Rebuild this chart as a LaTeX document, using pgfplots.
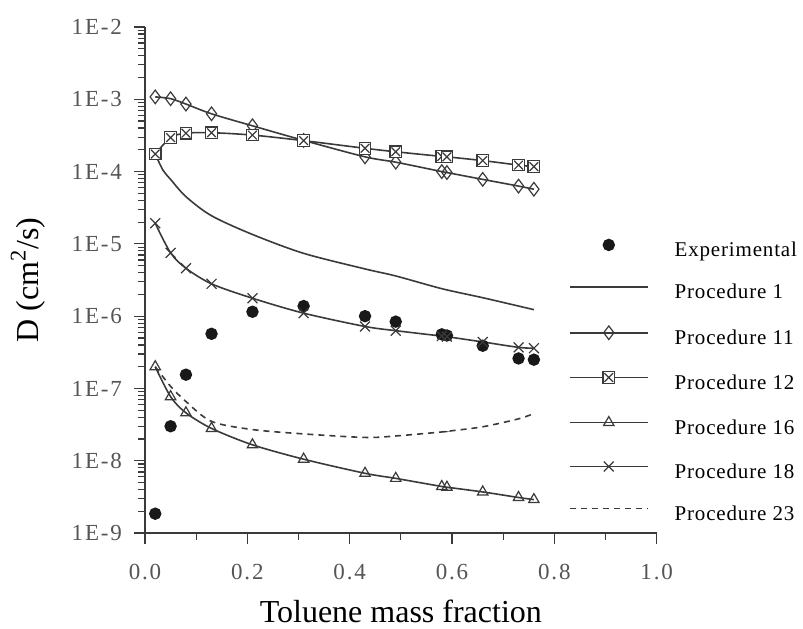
\documentclass[border=0pt]{standalone}
\usepackage{pgfplots}
\pgfplotsset{compat=1.18}
\usepackage{pgfplotstable}
\usepackage{fontspec}
\setmainfont{Liberation Serif}
\newfontfamily\tickfont[LetterSpace=8]{Liberation Serif}
\newfontfamily\legfont[LetterSpace=4]{Liberation Serif}
\definecolor{ln}{HTML}{3A3A3A}
\definecolor{tk}{HTML}{555555}

% boxed cross mark
\pgfdeclareplotmark{boxx}{%
  \pgfpathrectangle{\pgfqpoint{-\pgfplotmarksize}{-\pgfplotmarksize}}{\pgfqpoint{2\pgfplotmarksize}{2\pgfplotmarksize}}%
  \pgfusepathqfillstroke
  \pgfpathmoveto{\pgfqpoint{-0.75\pgfplotmarksize}{-0.75\pgfplotmarksize}}%
  \pgfpathlineto{\pgfqpoint{0.75\pgfplotmarksize}{0.75\pgfplotmarksize}}%
  \pgfpathmoveto{\pgfqpoint{-0.75\pgfplotmarksize}{0.75\pgfplotmarksize}}%
  \pgfpathlineto{\pgfqpoint{0.75\pgfplotmarksize}{-0.75\pgfplotmarksize}}%
  \pgfusepathqstroke
}

\pgfplotstableread{
x     exp     p11     p12     p16     p18     p23
0.02  1.85e-9 1.08e-3 1.75e-4 2.0e-7  1.93e-5 2.0e-7
0.05  3.0e-8  1.02e-3 2.95e-4 7.7e-8  7.5e-6  1.07e-7
0.08  1.55e-7 8.6e-4  3.4e-4  4.6e-8  4.6e-6  6.6e-8
0.13  5.7e-7  6.3e-4  3.45e-4 2.8e-8  2.8e-6  3.5e-8
0.21  1.15e-6 4.3e-4  3.2e-4  1.66e-8 1.77e-6 2.7e-8
0.31  1.38e-6 2.7e-4  2.68e-4 1.05e-8 1.10e-6 2.35e-8
0.43  1.0e-6  1.6e-4  2.1e-4  6.7e-9  7.2e-7  2.1e-8
0.49  8.4e-7  1.35e-4 1.88e-4 5.7e-9  6.3e-7  2.2e-8
0.58  5.6e-7  1.0e-4  1.62e-4 4.4e-9  5.3e-7  2.5e-8
0.59  5.4e-7  9.7e-5  1.60e-4 4.3e-9  5.2e-7  2.55e-8
0.66  3.9e-7  7.8e-5  1.42e-4 3.7e-9  4.4e-7  2.95e-8
0.73  2.6e-7  6.3e-5  1.23e-4 3.1e-9  3.7e-7  3.8e-8
0.76  2.5e-7  5.7e-5  1.17e-4 2.9e-9  3.6e-7  4.5e-8
}\data

\pgfplotstableread{
x     p1
0.02  1.75e-4
0.035 1.05e-4
0.05  7.8e-5
0.08  4.5e-5
0.13  2.45e-5
0.21  1.35e-5
0.31  7.4e-6
0.43  4.5e-6
0.49  3.6e-6
0.58  2.4e-6
0.66  1.8e-6
0.73  1.38e-6
0.76  1.23e-6
}\pone

\begin{document}
\begin{tikzpicture}
\useasboundingbox (0,0) rectangle (401.5pt,314pt);
\begin{axis}[
  at={(72.5pt,47.5pt)}, anchor=south west,
  scale only axis, width=255.85pt, height=253pt,
  ymode=log, log basis y=10,
  xmin=0, xmax=1, ymin=1e-9, ymax=1e-2,
  axis lines=left, axis line style={-, ln, line width=0.8pt},
  tick align=outside, major tick length=5.5pt, minor tick length=3.5pt,
  tick style={ln, line width=0.6pt},
  xtick={0,0.2,0.4,0.6,0.8,1.0}, minor x tick num=1,
  ytick={1e-9,1e-8,1e-7,1e-6,1e-5,1e-4,1e-3,1e-2},
  minor ytick={2e-9,3e-9,4e-9,5e-9,6e-9,7e-9,8e-9,9e-9,
    2e-8,3e-8,4e-8,5e-8,6e-8,7e-8,8e-8,9e-8,
    2e-7,3e-7,4e-7,5e-7,6e-7,7e-7,8e-7,9e-7,
    2e-6,3e-6,4e-6,5e-6,6e-6,7e-6,8e-6,9e-6,
    2e-5,3e-5,4e-5,5e-5,6e-5,7e-5,8e-5,9e-5,
    2e-4,3e-4,4e-4,5e-4,6e-4,7e-4,8e-4,9e-4,
    2e-3,3e-3,4e-3,5e-3,6e-3,7e-3,8e-3,9e-3},
  yticklabel={\pgfmathparse{int(round(\tick))}1E\pgfmathresult},
  xticklabel style={yshift=-6.5pt, /pgf/number format/.cd, fixed, fixed zerofill, precision=1, assume math mode=true},
  yticklabel style={xshift=-2.5pt},
  ticklabel style={font=\tickfont\fontsize{11.5pt}{13pt}\selectfont, text=tk},
  xlabel={Toluene mass fraction}, ylabel={D (cm\textsuperscript{2}/s)},
  label style={font=\fontsize{16pt}{19pt}\selectfont},
  xlabel style={at={(axis description cs:0.5,-0.155)}, anchor=center},
  ylabel style={at={(axis description cs:-0.2287,0.5)}, anchor=center},
  legend cell align=left,
  legend style={draw=none, fill=none, inner sep=0pt, outer sep=0pt,
    at={(axis description cs:0.8286,0.580)}, anchor=north west,
    font=\legfont\fontsize{10.5pt}{12pt}\selectfont, row sep=11pt, column sep=13pt,
    nodes={inner sep=0pt, text height=7.5pt, text depth=2.5pt}},
  legend image code/.code={\draw[#1, yshift=3.5pt, mark repeat=2, mark phase=2] plot coordinates {(0pt,0pt) (19.5pt,0pt) (39pt,0pt)};},
  every axis plot/.append style={line width=0.8pt},
]
\addplot[only marks, mark=*, mark size=2.7pt, black!90] table[x=x, y=exp] {\data};
\addlegendentry{Experimental}
\addplot[ln, smooth, no marks] table[x=x, y=p1] {\pone};
\addlegendentry{Procedure 1}
\addplot[ln, smooth, mark=diamond, mark size=3.4pt, mark options={fill=white, line width=0.6pt}] table[x=x, y=p11] {\data};
\addlegendentry{Procedure 11}
\addplot[ln, smooth, mark=boxx, mark size=2.9pt, mark options={fill=white, line width=0.6pt}] table[x=x, y=p12] {\data};
\addlegendentry{Procedure 12}
\addplot[ln, smooth, mark=triangle, mark size=3pt, mark options={fill=white, line width=0.6pt}] table[x=x, y=p16] {\data};
\addlegendentry{Procedure 16}
\addplot[ln, smooth, mark=x, mark size=3.5pt, mark options={line width=0.6pt}] table[x=x, y=p18] {\data};
\addlegendentry{Procedure 18}
\addplot[ln, smooth, no marks, dash pattern=on 3pt off 2.5pt] table[x=x, y=p23] {\data};
\addlegendentry{Procedure 23}
\end{axis}
\end{tikzpicture}
\end{document}
